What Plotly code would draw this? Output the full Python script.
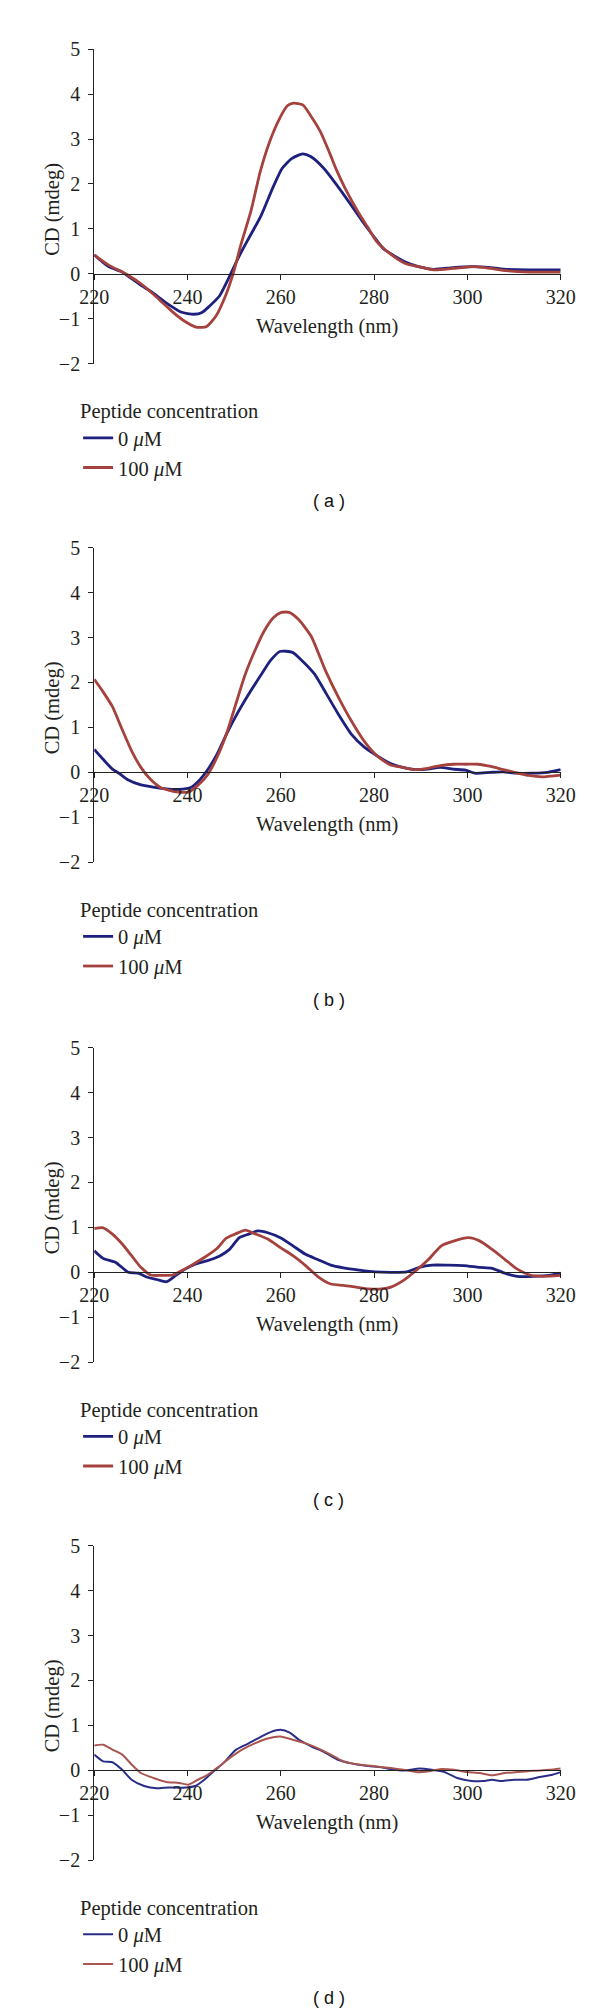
import plotly.graph_objects as go

# ---------------- data ----------------
A_WL_0 = [220, 223.05, 225.8, 227.1, 229.8, 232.5, 235.9, 238.6, 241.4, 243.1, 244.7, 246.8, 248.8, 250.8, 252.9,
          255.6, 258.3, 260.3, 262.4, 264.7, 266.4, 269.2, 271.9, 275.2, 277.9, 280, 282, 284, 286.7, 289.5,
          292.8, 296.9, 301, 305, 308.4, 313.2, 320]
A_CD_0 = [0.42, 0.16, 0.05, -0.04, -0.24, -0.42, -0.68, -0.85, -0.90, -0.86, -0.72, -0.50, -0.10, 0.34, 0.75,
          1.26, 1.92, 2.35, 2.57, 2.67, 2.61, 2.35, 1.99, 1.51, 1.11, 0.82, 0.56, 0.42, 0.26, 0.16,
          0.10, 0.14, 0.16, 0.14, 0.10, 0.09, 0.09]
A_WL_100 = [220, 223, 227.1, 230.5, 233.9, 236.6, 239.3, 242, 244.1, 246.1, 248.1, 249.8, 251.5, 253.6, 255.6,
            257.6, 259.7, 261.4, 262.7, 264.7, 266.4, 268.5, 270.5, 271.9, 273.9, 276.6, 278.6, 280.6, 283.4,
            286.7, 289.5, 292.8, 296.9, 301.6, 305, 308.4, 313.2, 320]
A_CD_100 = [0.42, 0.20, -0.02, -0.26, -0.57, -0.83, -1.05, -1.19, -1.17, -0.94, -0.50, 0.01, 0.67, 1.40, 2.28,
            2.94, 3.45, 3.74, 3.80, 3.76, 3.52, 3.16, 2.68, 2.32, 1.88, 1.37, 1.04, 0.71, 0.45,
            0.23, 0.16, 0.09, 0.12, 0.16, 0.12, 0.07, 0.04, 0.04]

B_WL_0 = [220, 221.9, 223.9, 225.3, 227.3, 230, 232.7, 235.4, 238.1, 240.8, 242.5, 244.2, 246.3, 248.3, 250.3,
          253, 255.7, 257.8, 259.8, 262.5, 264.5, 267.2, 269.8, 272.3, 275.2, 277.9, 280.6, 283.4, 286.1,
          288.8, 291.5, 294.2, 296.9, 299.6, 301.6, 305, 307.7, 310.5, 313.8, 317.2, 320]
B_CD_0 = [0.51, 0.29, 0.07, -0.02, -0.17, -0.28, -0.33, -0.37, -0.38, -0.33, -0.18, 0.04, 0.40, 0.84, 1.24,
          1.72, 2.16, 2.49, 2.69, 2.67, 2.49, 2.19, 1.74, 1.30, 0.84, 0.56, 0.37, 0.20, 0.11,
          0.06, 0.07, 0.11, 0.07, 0.05, -0.02, 0.00, 0.01, -0.02, -0.02, 0.00, 0.06]
B_WL_100 = [220, 221.9, 223.9, 226, 228, 230, 232, 234.1, 236.1, 238.1, 240.2, 242.2, 244.2, 246.3, 248.3,
            250.3, 252.3, 254.4, 256.4, 258.4, 260.1, 261.8, 263.8, 266.5, 269.5, 272.3, 275.2, 277.9, 280.6,
            283.4, 286.1, 288.8, 291.5, 294.2, 296.9, 299.6, 302.3, 305, 307.7, 310.5, 313.2, 315.9, 320]
B_CD_100 = [2.07, 1.79, 1.46, 0.95, 0.48, 0.11, -0.15, -0.33, -0.40, -0.44, -0.44, -0.29, -0.07, 0.33, 0.84,
            1.50, 2.16, 2.70, 3.14, 3.44, 3.56, 3.56, 3.40, 3.03, 2.28, 1.68, 1.13, 0.69, 0.37,
            0.17, 0.11, 0.06, 0.09, 0.15, 0.18, 0.18, 0.18, 0.13, 0.06, -0.01, -0.07, -0.10, -0.06]

C_WL_0 = [220, 221.9, 224.6, 227.3, 229.4, 231.4, 233.4, 235.5, 237.5, 239.5, 241.6, 244.3, 247, 249, 251.1,
          253.1, 255.1, 257.2, 259.9, 262.6, 265.3, 268, 270.7, 273.4, 276.8, 280.2, 283.6, 287, 289.7,
          292.4, 295.8, 299.2, 302.6, 305.3, 308, 310.7, 314.1, 317.5, 320]
C_CD_0 = [0.48, 0.31, 0.22, 0.00, -0.02, -0.11, -0.16, -0.21, -0.07, 0.07, 0.18, 0.26, 0.37, 0.51, 0.77,
          0.85, 0.92, 0.88, 0.77, 0.59, 0.40, 0.28, 0.16, 0.10, 0.05, 0.01, 0.00, 0.01, 0.11,
          0.16, 0.16, 0.15, 0.11, 0.09, -0.02, -0.09, -0.09, -0.07, -0.02]
C_WL_100 = [220, 221.9, 223.9, 226, 228, 230, 232.1, 234.1, 236.8, 238.8, 240.9, 243.6, 246.3, 248.3, 250.4,
            252.4, 254.4, 257.2, 259.9, 262.6, 265.3, 268, 270.7, 273.4, 276.1, 278.8, 281.6, 283.6, 286.3,
            289, 291.7, 294.4, 297.2, 300.2, 302.6, 305.3, 308, 310.7, 313.4, 316.1, 320]
C_CD_100 = [0.97, 0.99, 0.85, 0.63, 0.37, 0.11, -0.06, -0.07, -0.06, 0.04, 0.16, 0.33, 0.53, 0.76, 0.86,
            0.94, 0.86, 0.74, 0.55, 0.37, 0.15, -0.10, -0.26, -0.29, -0.33, -0.37, -0.37, -0.33, -0.18,
            0.04, 0.29, 0.59, 0.70, 0.77, 0.70, 0.51, 0.29, 0.07, -0.06, -0.09, -0.07]

D_WL_0 = [220, 221.9, 223.9, 226, 228, 230.7, 233.4, 236.1, 238.8, 241.6, 243.6, 245.6, 247.7, 250.4, 253.1,
          255.8, 257.8, 259.9, 261.9, 263.9, 266.6, 269.4, 272.1, 274.8, 278.2, 281.6, 284.3, 287, 289.7,
          292.4, 295.1, 297.8, 300.5, 303.3, 305.3, 307.3, 310, 312.7, 315.5, 318.2, 320]
D_CD_0 = [0.35, 0.20, 0.18, 0.01, -0.21, -0.35, -0.40, -0.38, -0.39, -0.35, -0.21, -0.02, 0.16, 0.46, 0.60,
          0.75, 0.85, 0.90, 0.84, 0.68, 0.53, 0.40, 0.24, 0.16, 0.10, 0.07, 0.01, 0.00, 0.04,
          0.01, -0.04, -0.17, -0.23, -0.24, -0.21, -0.24, -0.21, -0.21, -0.15, -0.10, -0.04]
D_WL_100 = [220, 221.9, 223.9, 226, 228, 230, 232.7, 235.5, 238.2, 240.2, 242.2, 244.3, 246.3, 249, 251.7,
            254.4, 257.2, 259.9, 262.6, 265.3, 268, 270.7, 273.4, 276.8, 280.2, 283.6, 286.3, 289, 291.7,
            294.4, 297.2, 299.9, 302.6, 305.3, 308, 310.7, 314.1, 317.5, 320]
D_CD_100 = [0.55, 0.57, 0.46, 0.35, 0.13, -0.06, -0.17, -0.26, -0.28, -0.32, -0.21, -0.10, 0.05, 0.27, 0.46,
            0.60, 0.71, 0.75, 0.68, 0.60, 0.49, 0.35, 0.20, 0.13, 0.09, 0.05, 0.01, -0.04, -0.02,
            0.03, 0.01, -0.04, -0.06, -0.11, -0.06, -0.04, -0.01, 0.01, 0.04]

SERIES_NAMES = ["0 <i>μ</i>M", "100 <i>μ</i>M"]
PANEL_LABELS = ["( a )", "( b )", "( c )", "( d )"]
Y_TICKS = [-2, -1, 0, 1, 2, 3, 4, 5]
X_TICKS = [220, 240, 260, 280, 300, 320]
X_TITLE = "Wavelength (nm)"
Y_TITLE = "CD (mdeg)"
LEGEND_TITLE = "Peptide concentration"

# ---------------- layout / style ----------------
W, H = 600, 2015
PANEL_TOPS = [30.5, 534.5, 1040, 1543.5]   # pixel y of CD = 5
SPAN = 318                                 # pixel height from 5 to -2
X_L, X_R = 75, 566
BLUE = "#1e207e"
RED = "#a5423e"
BLUE_D = "#2a2d86"
RED_D = "#a95550"
SERIF = "Liberation Serif, Times New Roman, serif"
SANS = "Liberation Sans, Arial, sans-serif"
TXT = "#231f20"


def py(px):
    return 1 - px / H


panels = [
    (A_WL_0, A_CD_0, A_WL_100, A_CD_100),
    (B_WL_0, B_CD_0, B_WL_100, B_CD_100),
    (C_WL_0, C_CD_0, C_WL_100, C_CD_100),
    (D_WL_0, D_CD_0, D_WL_100, D_CD_100),
]

fig = go.Figure()
annotations = []
layout = {}
for i, (wl0, cd0, wl1, cd1) in enumerate(panels):
    n = "" if i == 0 else str(i + 1)
    top = PANEL_TOPS[i]
    thin = (i == 3)
    lw = 2.0 if thin else 2.8
    c0 = BLUE_D if thin else BLUE
    c1 = RED_D if thin else RED
    leg = "legend" + n
    for wl, cd, name, col in ((wl0, cd0, SERIES_NAMES[0], c0), (wl1, cd1, SERIES_NAMES[1], c1)):
        fig.add_trace(go.Scatter(
            x=wl, y=cd, mode="lines", name=name,
            line=dict(color=col, width=lw, shape="spline", smoothing=0.6),
            xaxis="x" + n, yaxis="y" + n, legend=leg, showlegend=True,
        ))
    y_bot = py(top + SPAN)
    y_top = py(top)
    zero_px = top + SPAN * 5 / 7
    layout["xaxis" + n] = dict(
        domain=[X_L / W, X_R / W], range=[220, 320], anchor="free", position=py(zero_px),
        tickvals=X_TICKS, ticks="outside", ticklen=5, tickcolor="#222", tickwidth=1,
        showline=True, linecolor="#222", linewidth=1.2, showgrid=False, zeroline=False,
        tickfont=dict(family=SERIF, size=20, color=TXT), fixedrange=True,
    )
    layout["yaxis" + n] = dict(
        domain=[y_bot, y_top], range=[-2, 5], anchor="x" + n,
        tickvals=Y_TICKS, ticks="outside", ticklen=5, tickcolor="#222", tickwidth=1,
        showline=True, linecolor="#222", linewidth=1.2, showgrid=False, zeroline=False,
        tickfont=dict(family=SERIF, size=20, color=TXT), ticklabelstandoff=4,
    )
    layout[leg] = dict(
        x=58 / W, xanchor="left", y=py(top + 346), yanchor="top",
        title=dict(text=LEGEND_TITLE, font=dict(family=SERIF, size=20.5, color=TXT), side="top"),
        font=dict(family=SERIF, size=20.5, color=TXT), bgcolor="rgba(0,0,0,0)",
        itemwidth=30, tracegroupgap=0,
    )
    annotations.append(dict(
        text=X_TITLE, x=(X_L + X_R) / 2 / W, y=py(top + 280), xref="paper", yref="paper",
        showarrow=False, xanchor="center", yanchor="middle",
        font=dict(family=SERIF, size=20.5, color=TXT)))
    annotations.append(dict(
        text=Y_TITLE, x=31 / W, y=py(top + 162), xref="paper", yref="paper", textangle=-90,
        showarrow=False, xanchor="center", yanchor="middle",
        font=dict(family=SERIF, size=20.5, color=TXT)))
    annotations.append(dict(
        text=PANEL_LABELS[i], x=322 / W, y=py(top + 457), xref="paper", yref="paper",
        showarrow=False, xanchor="center", yanchor="middle",
        font=dict(family=SANS, size=18, color="#111")))

fig.update_layout(
    width=W, height=H, margin=dict(l=0, r=0, t=0, b=0),
    paper_bgcolor="white", plot_bgcolor="white",
    annotations=annotations, **layout,
)
fig.write_html("out.html")
